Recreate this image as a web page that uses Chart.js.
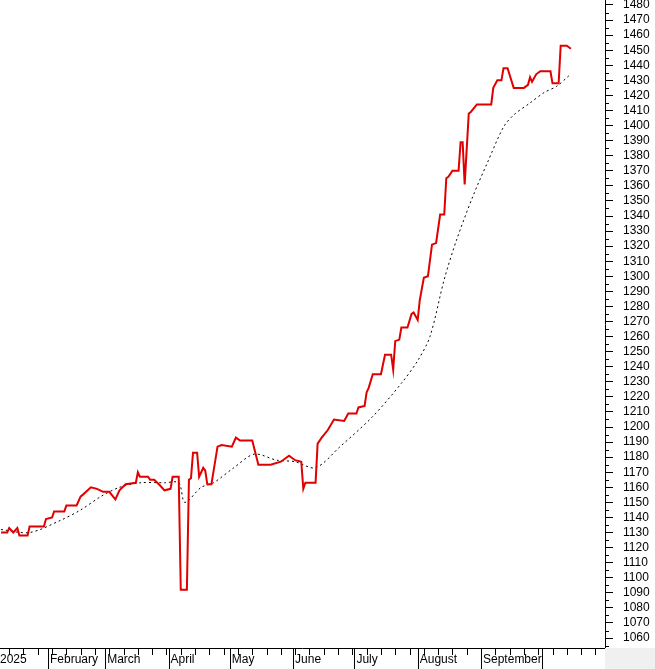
<!DOCTYPE html>
<html>
<head>
<meta charset="utf-8">
<script src="https://cdn.jsdelivr.net/npm/chart.js@4"></script>
<style>
  html, body { margin: 0; padding: 0; background: #fff; }
  canvas { display: block; }
</style>
</head>
<body>
<canvas id="chart" width="655" height="669"></canvas>
<script>
// day of year 2025 (Jan 1 = 0) and price
const priceDays = [8,11,12,14,16,17,21,22,29,30,33,34,39,40,45,47,48,52,55,58,61,64,66,69,74,75,76,80,81,83,86,88,91,92,95,96,99,100,101,102,104,105,107,108,109,111,114,116,121,123,125,131,134,140,145,149,152,155,156,157,162,163,165,168,171,176,178,182,183,186,187,188,190,194,196,199,200,201,203,204,207,209,210,212,213,215,217,219,221,223,225,226,227,229,232,233,234,235,237,238,241,248,249,251,253,254,256,259,264,266,267,268,270,272,277,278,281,282,285,287];
const priceValues = [1130,1130,1133,1130,1133,1128,1128,1134,1134,1139,1140,1144,1144,1148,1148,1154,1155,1160,1159,1157,1157,1152,1158,1162,1163,1170,1167,1167,1165,1165,1161,1158,1159,1167,1167,1092,1092,1165,1166,1183,1183,1167,1173,1171,1162,1162,1187,1188,1187,1193,1191,1191,1175,1175,1177,1181,1178,1177,1159,1163,1163,1189,1193,1198,1205,1204,1209,1209,1213,1214,1223,1226,1235,1235,1248,1248,1238,1257,1258,1266,1266,1275,1276,1271,1284,1299,1300,1321,1322,1341,1341,1365,1366,1370,1370,1389,1389,1361,1408,1409,1414,1414,1425,1430,1430,1438,1438,1425,1425,1427,1432,1429,1434,1436,1436,1428,1428,1453,1453,1451];
const maDays = [8,22,37,47,57,66,76,88,95,98,106,112,122,132,143,152,162,174,190,204,212,218,225,231,239,246,254,259,267,274,280,286];
const maValues = [1132,1130,1138,1145,1154,1160,1163,1163,1163,1150,1160,1163,1173,1182,1178,1177,1173,1187,1207,1229,1244,1260,1298,1324,1353,1375,1399,1407,1415,1422,1426,1433];
const monthStarts = [0,31,59,90,120,151,181,212,243,273];
const monthLabels = ['2025','February','March','April','May','June','July','August','September',''];

const toXY = (days, vals) => days.map((d, i) => ({ x: d, y: vals[i] }));

const axisPlugin = {
  id: 'axisPlugin',
  afterDraw(chart) {
    const ctx = chart.ctx;
    const a = chart.chartArea;
    const xs = chart.scales.x, ys = chart.scales.y;
    ctx.save();
    ctx.fillStyle = '#f0f0f0';
    ctx.fillRect(a.right, a.bottom, chart.width - a.right, chart.height - a.bottom);
    ctx.strokeStyle = '#000';
    ctx.lineWidth = 1;
    ctx.beginPath();
    ctx.moveTo(0, a.bottom + 0.5);
    ctx.lineTo(a.right, a.bottom + 0.5);
    // weekly ticks (Mondays)
    for (let d = 5; d < xs.max; d += 7) {
      const px = Math.round(xs.getPixelForValue(d)) + 0.5;
      if (px < 0 || px > a.right) continue;
      ctx.moveTo(px, a.bottom);
      ctx.lineTo(px, a.bottom + 7);
    }
    monthStarts.forEach(d => {
      const px = Math.round(xs.getPixelForValue(d)) + 0.5;
      if (px < 0 || px > a.right) return;
      ctx.moveTo(px, a.bottom);
      ctx.lineTo(px, chart.height);
    });
    // minor y ticks
    for (let v = 1055; v < ys.max; v += 10) {
      const py = Math.round(ys.getPixelForValue(v)) + 0.5;
      ctx.moveTo(a.right, py);
      ctx.lineTo(a.right + 4, py);
    }
    ctx.stroke();
    ctx.fillStyle = '#000';
    ctx.font = '12px "Liberation Sans", Arial, sans-serif';
    ctx.textBaseline = 'middle';
    ctx.textAlign = 'left';
    monthStarts.forEach((d, i) => {
      if (!monthLabels[i]) return;
      const px = Math.max(0, xs.getPixelForValue(d) + 2);
      ctx.fillText(monthLabels[i], px, a.bottom + 12);
    });
    ctx.restore();
  }
};

new Chart(document.getElementById('chart').getContext('2d'), {
  type: 'scatter',
  data: {
    datasets: [{
      data: toXY(priceDays, priceValues),
      showLine: true,
      borderColor: '#e00000',
      borderWidth: 2,
      pointRadius: 0,
      tension: 0
    }, {
      data: toXY(maDays, maValues),
      showLine: true,
      borderColor: '#000',
      borderWidth: 1,
      borderDash: [2, 3],
      pointRadius: 0,
      tension: 0.3
    }]
  },
  options: {
    responsive: false,
    animation: false,
    devicePixelRatio: 1,
    layout: { padding: { left: 0, top: 0, right: 0, bottom: 21 } },
    plugins: { legend: { display: false }, tooltip: { enabled: false } },
    scales: {
      x: { type: 'linear', display: false, min: 7.5, max: 303.7 },
      y: {
        position: 'right',
        min: 1053.4, max: 1483.3,
        afterFit(s) { s.width = 50; s.paddingTop = 0; s.paddingBottom = 0; },
        afterBuildTicks(s) {
          const t = [];
          for (let v = 1060; v <= 1480; v += 10) t.push({ value: v });
          s.ticks = t;
        },
        border: { color: '#000', width: 1 },
        grid: { drawOnChartArea: false, tickLength: 8, color: '#000' },
        ticks: {
          color: '#000', padding: 10, autoSkip: false,
          callback: v => String(v),
          font: { family: '"Liberation Sans", Arial, sans-serif', size: 12 }
        }
      }
    }
  },
  plugins: [axisPlugin]
});
</script>
</body>
</html>
